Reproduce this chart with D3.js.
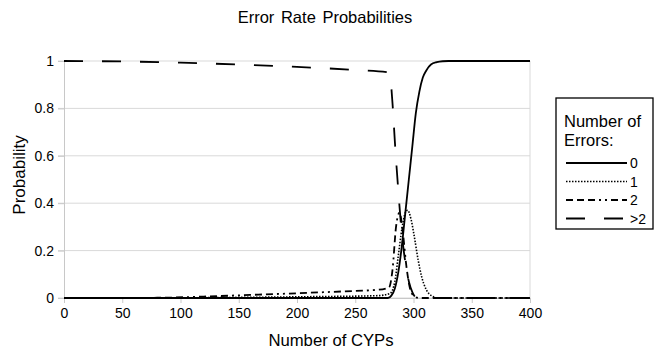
<!DOCTYPE html>
<html>
<head>
<meta charset="utf-8">
<script src="https://cdn.jsdelivr.net/npm/d3@7"></script>
<style>
  body { margin: 0; background: #fff; }
  text { font-family: "Liberation Sans", Arial, sans-serif; fill: #000; }
</style>
</head>
<body>
<svg id="chart" width="658" height="350"></svg>
<script>
// x values (number of CYPs) and probabilities
const cyps0 = [0, 278, 281, 284, 287, 290, 293, 296, 299, 302, 305, 308, 311, 315, 320, 325, 330, 400];
const prob0 = [0, 0, 0.01, 0.04, 0.11, 0.22, 0.36, 0.5, 0.64, 0.78, 0.87, 0.93, 0.96, 0.985, 0.995, 0.999, 1, 1];

const cyps1 = [0, 100, 200, 270, 280, 284, 287, 290, 293, 295, 298, 301, 304, 307, 311, 316, 321, 400];
const prob1 = [0, 0.001, 0.005, 0.01, 0.02, 0.07, 0.18, 0.29, 0.36, 0.37, 0.33, 0.25, 0.16, 0.09, 0.035, 0.008, 0, 0];

const cyps2 = [0, 80, 120, 160, 200, 240, 270, 279, 282, 285, 288, 291, 294, 297, 300, 305, 400];
const prob2 = [0, 0.001, 0.006, 0.013, 0.02, 0.028, 0.035, 0.045, 0.12, 0.3, 0.36, 0.27, 0.13, 0.04, 0.01, 0, 0];

const cyps3 = [0, 50, 100, 150, 200, 250, 278, 280, 282, 284, 287, 290, 293, 296, 299, 303, 400];
const prob3 = [1, 0.998, 0.993, 0.985, 0.975, 0.962, 0.952, 0.93, 0.82, 0.66, 0.45, 0.27, 0.15, 0.07, 0.025, 0, 0];

const seriesNames = ["0", "1", "2", ">2"];
const xTicks = [0, 50, 100, 150, 200, 250, 300, 350, 400];
const yTicks = [0, 0.2, 0.4, 0.6, 0.8, 1];

const series = [
  { name: seriesNames[0], x: cyps0, y: prob0, dash: null, width: 1.8 },
  { name: seriesNames[1], x: cyps1, y: prob1, dash: "1.5,1.5", width: 1.6 },
  { name: seriesNames[2], x: cyps2, y: prob2, dash: "7,4,7,4,7,4,2,4,2,4", width: 1.8 },
  { name: seriesNames[3], x: cyps3, y: prob3, dash: "19,19", width: 1.8 }
];

const margin = { top: 61, right: 128, bottom: 52, left: 64 };
const width = 658 - margin.left - margin.right,
  height = 350 - margin.top - margin.bottom;

const svg = d3.select("#chart");
const g = svg.append("g").attr("transform", `translate(${margin.left},${margin.top})`);

const x = d3.scaleLinear().domain([0, 400]).range([0, width]);
const y = d3.scaleLinear().domain([0, 1]).range([height, 0]);

// horizontal grid
g.append("g")
  .selectAll("line")
  .data(yTicks)
  .join("line")
  .attr("x1", -6)
  .attr("x2", width)
  .attr("y1", (d) => y(d))
  .attr("y2", (d) => y(d))
  .attr("stroke", "#d9d9d9")
  .attr("stroke-width", 1);

// right border
g.append("line")
  .attr("x1", width).attr("x2", width)
  .attr("y1", 0).attr("y2", height)
  .attr("stroke", "#d9d9d9");

// y axis
const yAxis = g.append("g")
  .call(d3.axisLeft(y).tickValues(yTicks).tickSize(6).tickFormat((d) => d3.format("")(+d.toFixed(1))));
yAxis.select(".domain").attr("stroke", "#c8c8c8");
yAxis.selectAll(".tick line").attr("stroke", "#c8c8c8");
yAxis.selectAll(".tick text").attr("font-size", 14).attr("x", -10);

// x axis
const xAxis = g.append("g")
  .attr("transform", `translate(0,${height})`)
  .call(d3.axisBottom(x).tickValues(xTicks).tickSize(5));
xAxis.select(".domain").attr("stroke", "#c8c8c8");
xAxis.selectAll(".tick line").attr("stroke", "#c8c8c8");
xAxis.selectAll(".tick text").attr("font-size", 14).attr("y", 10);
svg.selectAll(".tick text").style("font-family", '"Liberation Sans", Arial, sans-serif').attr("fill", "#000");

const line = d3.line()
  .x((d) => x(d[0]))
  .y((d) => y(d[1]))
  .curve(d3.curveMonotoneX);

g.append("g")
  .selectAll("path")
  .data(series)
  .join("path")
  .attr("d", (s) => line(s.x.map((v, i) => [v, s.y[i]])))
  .attr("fill", "none")
  .attr("stroke", "#000")
  .attr("stroke-width", (s) => s.width)
  .attr("stroke-dasharray", (s) => s.dash);

// titles
svg.append("text")
  .attr("x", 325).attr("y", 23)
  .attr("text-anchor", "middle")
  .attr("font-size", 16.5)
  .attr("word-spacing", 2)
  .text("Error Rate Probabilities");

svg.append("text")
  .attr("x", 331).attr("y", 346)
  .attr("text-anchor", "middle")
  .attr("font-size", 16.7)
  .text("Number of CYPs");

svg.append("text")
  .attr("transform", "translate(25,175) rotate(-90)")
  .attr("text-anchor", "middle")
  .attr("font-size", 17)
  .text("Probability");

// legend
const legend = svg.append("g").attr("transform", "translate(556,98)");
legend.append("rect")
  .attr("width", 97).attr("height", 131)
  .attr("fill", "#fff")
  .attr("stroke", "#000")
  .attr("stroke-width", 1.3);
legend.append("text").attr("x", 8).attr("y", 29).attr("font-size", 16.5).text("Number of");
legend.append("text").attr("x", 8).attr("y", 48).attr("font-size", 16.5).text("Errors:");

const item = legend.selectAll(".item")
  .data(series)
  .join("g")
  .attr("class", "item")
  .attr("transform", (d, i) => `translate(0,${65 + i * 18.5})`);
item.append("line")
  .attr("x1", 10).attr("x2", 71)
  .attr("stroke", "#000")
  .attr("stroke-width", (s) => s.width)
  .attr("stroke-dasharray", (s) => s.dash);
item.append("text")
  .attr("x", 74).attr("y", 5)
  .attr("font-size", 14)
  .text((s) => s.name);
</script>
</body>
</html>
